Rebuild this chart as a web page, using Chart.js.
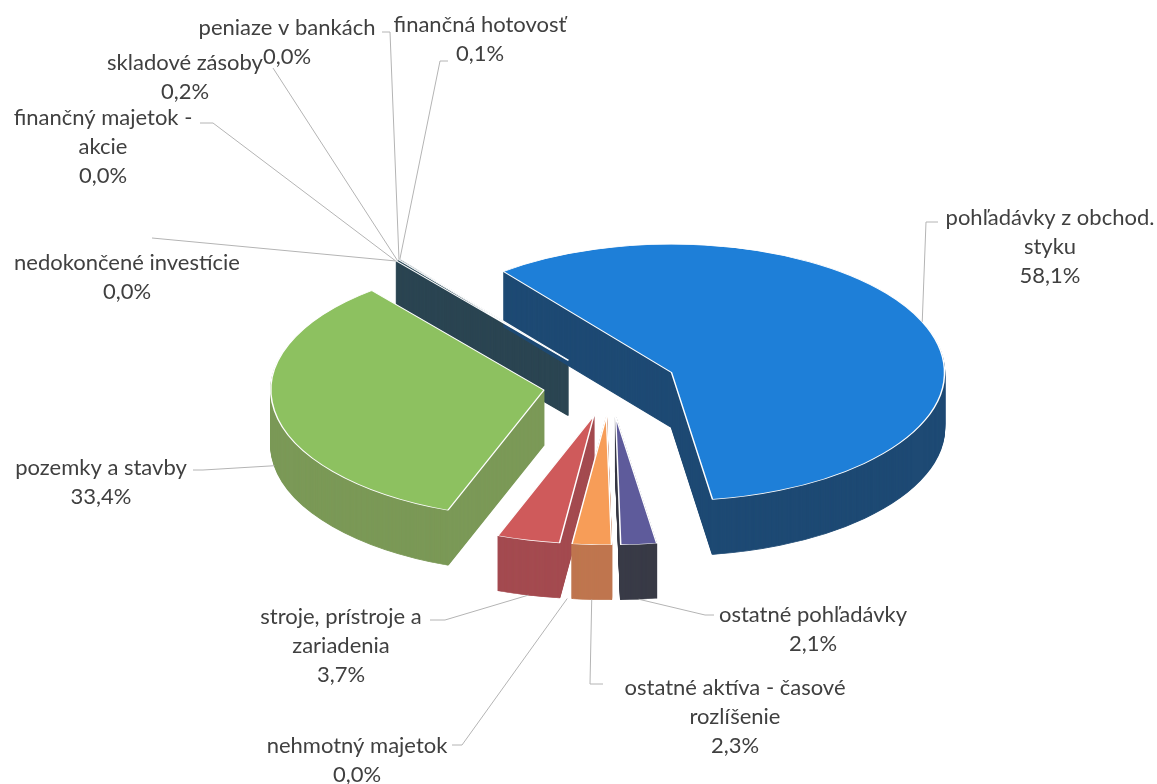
<!DOCTYPE html>
<html>
<head>
<meta charset="utf-8">
<script src="https://cdn.jsdelivr.net/npm/chart.js@4.4.1/dist/chart.umd.min.js"></script>
<style>
  html, body { margin: 0; padding: 0; background: #fff; }
  #wrap { width: 1157px; height: 784px; }
</style>
</head>
<body>
<div id="wrap"><canvas id="chart" width="1157" height="784"></canvas></div>
<script>
// data (share of assets, %)
const categories = [
    'pohľadávky z obchod. styku', 'ostatné pohľadávky', 'ostatné aktíva - časové rozlíšenie',
    'nehmotný majetok', 'stroje, prístroje a zariadenia', 'pozemky a stavby',
    'nedokončené investície', 'finančný majetok - akcie', 'skladové zásoby',
    'peniaze v bankách', 'finančná hotovosť'
];
const shares = [58.1, 2.1, 2.3, 0.0, 3.7, 33.4, 0.0, 0.0, 0.2, 0.0, 0.1];
// label text, wrapped as in the original
const labelLines = [
    ['pohľadávky z obchod.', 'styku'], ['ostatné pohľadávky'], ['ostatné aktíva - časové', 'rozlíšenie'],
    ['nehmotný majetok'], ['stroje, prístroje a', 'zariadenia'], ['pozemky a stavby'],
    ['nedokončené investície'], ['finančný majetok -', 'akcie'], ['skladové zásoby'],
    ['peniaze v bankách'], ['finančná hotovosť']
];
const topColors = ['#1e7fd8', '#5e5b9b', '#f79d58', '#2e75b6', '#cf5a5b', '#8dc160',
    '#4472c4', '#a5a5a5', '#2d4b5a', '#264478', '#2b4756'];
const sideColors = ['#1e4a74', '#393b47', '#bf764f', '#1f4e79', '#a44b50', '#7b9957',
    '#2f4f8a', '#7f7f7f', '#2b4552', '#1b3157', '#284350'];

// label placement: text centre x, first line y, leader elbow (ex, ey) and tick end tx
const labelPos = [
    { x: 1050, y: 218, ex: 926, ey: 222, tx: 938 },
    { x: 813, y: 615, ex: 705, ey: 615, tx: 714 },
    { x: 735, y: 688, ex: 590, ey: 684, tx: 603 },
    { x: 357, y: 746, ex: 462, ey: 745, tx: 452 },
    { x: 341, y: 617, ex: 445, ey: 620, tx: 430 },
    { x: 101, y: 468, ex: 203, ey: 470, tx: 193 },
    { x: 127, y: 263, ex: 152, ey: 238, tx: 152 },
    { x: 103, y: 118, ex: 213, ey: 123, tx: 200 },
    { x: 185, y: 63, ex: 273, ey: 68, tx: 273 },
    { x: 287, y: 28, ex: 390, ey: 32, tx: 382 },
    { x: 480, y: 25, ex: 440, ey: 61, tx: 448 }
];

const CX = 610, CY = 385;      // pie centre
const TILT = 0.47;             // vertical squash of the pie
const DEPTH = 55;              // thickness of the pie in px
const EXPLODE = 67;            // distance each slice is pulled out
const RADIUS = 273;
const FONT = '22px Lato';
const LINE = 29;

const fmtPct = v => v.toFixed(1).replace('.', ',') + '%';
const midOf = arc => (arc.startAngle + arc.endAngle) / 2;

const explodePlugin = {
    id: 'explode',
    afterDatasetsUpdate(chart) {
        chart.getDatasetMeta(0).data.forEach(arc => {
            const m = midOf(arc);
            arc.x += Math.cos(m) * EXPLODE;
            arc.y += Math.sin(m) * EXPLODE;
        });
    }
};

const depthPlugin = {
    id: 'depth',
    beforeDatasetsDraw(chart) {
        const ctx = chart.ctx;
        ctx.save();
        ctx.translate(0, CY);
        ctx.scale(1, TILT);
        ctx.translate(0, -CY);
        const items = chart.getDatasetMeta(0).data.map((arc, i) => ({ arc, i }));
        items.sort((a, b) => Math.sin(midOf(a.arc)) - Math.sin(midOf(b.arc)));
        items.forEach(({ arc, i }) => {
            const keep = arc.options;
            arc.options = Object.assign({}, keep, {
                backgroundColor: sideColors[i], borderColor: sideColors[i], borderWidth: 1.5
            });
            for (let d = DEPTH; d > 0; d--) {
                ctx.save();
                ctx.translate(0, d / TILT);
                arc.draw(ctx);
                ctx.restore();
            }
            arc.options = keep;
        });
    },
    afterDatasetsDraw(chart) {
        chart.ctx.restore();
    }
};

const labelPlugin = {
    id: 'sliceLabels',
    afterDraw(chart) {
        const ctx = chart.ctx;
        const arcs = chart.getDatasetMeta(0).data;
        ctx.save();
        ctx.font = FONT;
        ctx.textAlign = 'center';
        ctx.textBaseline = 'middle';
        arcs.forEach((arc, i) => {
            const p = labelPos[i];
            const m = midOf(arc);
            const ax = arc.x + Math.cos(m) * arc.outerRadius;
            let ay = CY + (arc.y + Math.sin(m) * arc.outerRadius - CY) * TILT;
            if (Math.sin(m) > 0) ay += DEPTH;
            ctx.beginPath();
            ctx.moveTo(ax, ay);
            ctx.lineTo(p.ex, p.ey);
            ctx.lineTo(p.tx, p.ey);
            ctx.strokeStyle = '#b4b4b4';
            ctx.lineWidth = 1;
            ctx.stroke();
            ctx.fillStyle = '#404040';
            labelLines[i].concat(fmtPct(shares[i])).forEach((t, j) => ctx.fillText(t, p.x, p.y + j * LINE));
        });
        ctx.restore();
    }
};

new Chart(document.getElementById('chart'), {
    type: 'pie',
    data: {
        labels: categories,
        datasets: [{
            data: shares,
            backgroundColor: topColors,
            borderColor: '#ffffff',
            borderWidth: 1.5,
            clip: false
        }]
    },
    options: {
        responsive: false,
        animation: false,
        rotation: -38,
        radius: RADIUS,
        layout: { padding: { left: 63, right: 0, top: 0, bottom: 14 } },
        plugins: {
            legend: { display: false },
            tooltip: { enabled: false }
        }
    },
    plugins: [explodePlugin, depthPlugin, labelPlugin]
});
</script>
</body>
</html>
